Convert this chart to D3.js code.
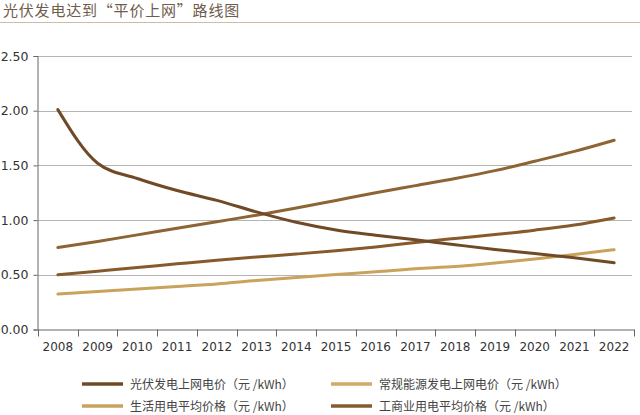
<!DOCTYPE html>
<html><head><meta charset="utf-8">
<script src="https://cdn.jsdelivr.net/npm/d3@7"></script>
<style>
html,body{margin:0;padding:0;background:#fff;}
svg{display:block;}
</style></head>
<body>
<svg id="chart" width="640" height="415"></svg>
<script>
const title = "光伏发电达到“平价上网”路线图";
const years = ["2008","2009","2010","2011","2012","2013","2014","2015","2016","2017","2018","2019","2020","2021","2022"];
const yTicks = [0, 0.5, 1.0, 1.5, 2.0, 2.5];
const pvTariff = [2.01, 1.52, 1.38, 1.27, 1.18, 1.075, 0.98, 0.91, 0.862, 0.82, 0.775, 0.732, 0.695, 0.655, 0.61];
const conventionalTariff = [0.324, 0.347, 0.37, 0.393, 0.417, 0.448, 0.476, 0.502, 0.527, 0.555, 0.575, 0.607, 0.645, 0.686, 0.73];
const residentialPrice = [0.50, 0.533, 0.566, 0.60, 0.633, 0.662, 0.69, 0.72, 0.755, 0.795, 0.832, 0.868, 0.908, 0.955, 1.02];
const industrialPrice = [0.75, 0.805, 0.865, 0.925, 0.985, 1.045, 1.11, 1.18, 1.25, 1.315, 1.38, 1.452, 1.538, 1.628, 1.73];
const seriesNames = ["光伏发电上网电价（元 /kWh）","常规能源发电上网电价（元 /kWh）","生活用电平均价格（元 /kWh）","工商业用电平均价格（元 /kWh）"];
const seriesValues = [pvTariff, conventionalTariff, residentialPrice, industrialPrice];
const lineColors = ["#704a27", "#c9a25c", "#875a2c", "#8d6433"];
const swatchColors = ["#704a27", "#d0a96b", "#c9a25f", "#875b31"];

const svg = d3.select("#chart");
const font = "'DejaVu Sans', sans-serif";

// title
svg.append("text").attr("x", 3).attr("y", 16)
  .attr("font-family", "'Noto Sans CJK SC', sans-serif").attr("font-size", 15)
  .attr("fill", "#6e5d4c").attr("letter-spacing", 0.8).text(title);
svg.append("line").attr("x1", 0).attr("x2", 640).attr("y1", 22.5).attr("y2", 22.5)
  .attr("stroke", "#cdbda6").attr("stroke-width", 1);

const x = d3.scaleBand().domain(years).range([38, 634]);
const y = d3.scaleLinear().domain([0, 2.5]).range([329.5, 56]);

// gridlines
svg.append("g").selectAll("line").data(yTicks.filter(d => d > 0)).join("line")
  .attr("x1", 38).attr("x2", 632)
  .attr("y1", d => Math.round(y(d)) + 0.5).attr("y2", d => Math.round(y(d)) + 0.5)
  .attr("stroke", "#b4b4b4").attr("stroke-width", 1);

// y axis
const yAxis = svg.append("g").attr("transform", "translate(37.5,0)")
  .call(d3.axisLeft(y).tickValues(yTicks).tickFormat(d3.format(".2f")).tickSize(4).tickPadding(5));
yAxis.select(".domain").attr("stroke", "#666");
yAxis.selectAll(".tick line").attr("stroke", "#666");
yAxis.selectAll("text").attr("font-family", font).attr("font-size", 12.5).attr("fill", "#333");

// x axis
const xAxis = svg.append("g").attr("transform", "translate(0,329.5)")
  .call(d3.axisBottom(x).tickSize(0).tickPadding(13));
xAxis.select(".domain").attr("stroke", "#666");
xAxis.selectAll("text").attr("font-family", font).attr("font-size", 12).attr("fill", "#333");
xAxis.append("g").selectAll("line").data(years.concat(["end"])).join("line")
  .attr("x1", (d, i) => Math.round(38 + i * x.step()) + 0.5)
  .attr("x2", (d, i) => Math.round(38 + i * x.step()) + 0.5)
  .attr("y1", 0).attr("y2", 7).attr("stroke", "#666");

// lines
const line = d3.line()
  .x((d, i) => x(years[i]) + x.bandwidth() / 2)
  .y(d => y(d))
  .curve(d3.curveMonotoneX);
const drawOrder = [1, 2, 3, 0];
svg.append("g").selectAll("path").data(drawOrder).join("path")
  .attr("d", i => line(seriesValues[i]))
  .attr("fill", "none").attr("stroke", i => lineColors[i])
  .attr("stroke-width", 3).attr("stroke-linecap", "round").attr("stroke-linejoin", "round");

// legend
const legendPos = [[82, 384], [331, 384], [82, 406], [331, 406]];
const lg = svg.append("g").selectAll("g").data(seriesNames).join("g")
  .attr("transform", (d, i) => `translate(${legendPos[i][0]},${legendPos[i][1]})`);
lg.append("line").attr("x1", 0).attr("x2", 41).attr("y1", 0).attr("y2", 0)
  .attr("stroke", (d, i) => swatchColors[i]).attr("stroke-width", 3.5);
lg.append("text").attr("x", 48).attr("y", 4.5)
  .attr("font-family", "'Noto Sans CJK SC', sans-serif").attr("font-size", 12)
  .attr("fill", "#444").text(d => d);
</script>
</body></html>
